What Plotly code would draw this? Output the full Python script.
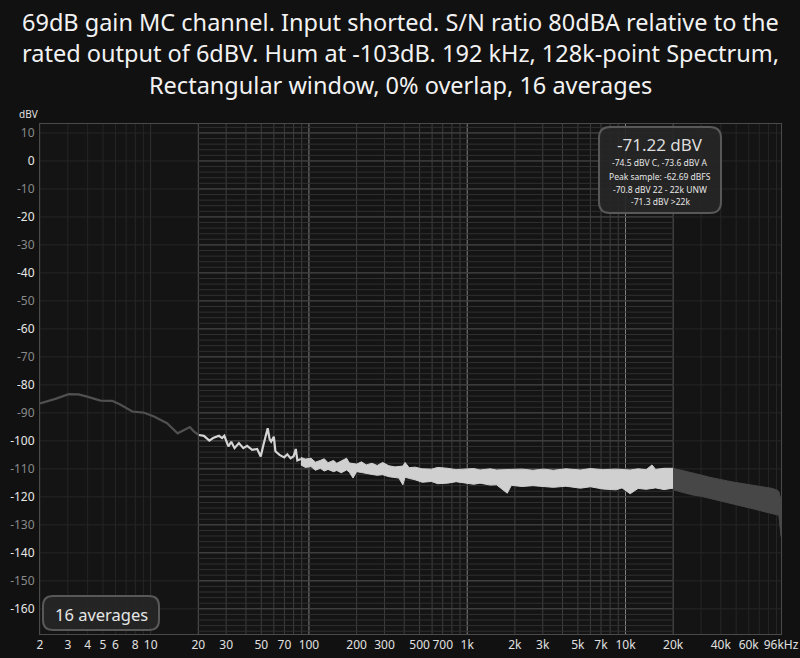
import math
import plotly.graph_objects as go

# ---------------- data ----------------
# 2-20 Hz (dark trace, outside the analysis band)
low_f = [2.0, 2.5, 3.04, 3.5, 3.97, 4.82, 5.72, 6.46, 7.66, 9.0, 10.5, 12.7, 14.8, 16.3, 17.7, 18.8, 20.2]
low_db = [-86.6, -85.0, -83.3, -83.4, -84.2, -85.6, -85.7, -87.1, -89.5, -89.9, -91.3, -93.7, -97.3, -96.1, -95.1, -96.7, -97.9]

# 20-90 Hz (white trace, single line)
mid_f = [20.2, 21.7, 23.5, 24.8, 27.0, 28.3, 29.2, 31.0, 32.3, 33.9, 36.1, 38.5, 40.7, 43.8, 47.1,
         49.6, 51.6, 53.5, 54.9, 56.5, 57.7, 60.0, 61.4, 65.2, 69.8, 73.0, 76.6, 80.0, 82.6, 84.5, 89.0]
mid_db = [-97.9, -98.2, -99.9, -99.0, -98.2, -99.0, -98.2, -102.0, -100.3, -102.6, -100.8, -102.6, -101.8, -103.2, -102.9,
          -105.6, -101.4, -97.5, -95.5, -99.5, -100.3, -98.5, -103.7, -105.0, -105.9, -104.8, -106.2, -105.5, -102.9, -107.0, -106.5]

# 89 Hz - 20 kHz (white noise band: upper / lower envelopes)
band_f = [89, 95, 103, 110, 118, 125, 132, 143, 150, 160, 173, 180, 190, 200, 215, 230, 250, 270, 292, 320,
          350, 370, 392, 405, 430, 468, 520, 594, 650, 753, 850, 953, 1100, 1205, 1400, 1530, 1790, 1900,
          2220, 2600, 3040, 3500, 4200, 5200, 6000, 7200, 8700, 9500, 10700, 12000, 13500, 14700, 15500, 17500, 20000]
band_hi = [-105.9, -106.5, -106.2, -107.6, -107.0, -106.4, -107.8, -107.0, -108.0, -107.3, -106.2, -107.9, -108.2, -108.3, -107.5,
           -108.6, -108.0, -108.8, -107.7, -108.9, -109.3, -109.2, -109.0, -107.7, -109.6, -109.4, -110.0, -110.1, -109.5, -109.8,
           -110.3, -110.1, -109.9, -110.4, -110.0, -110.4, -110.1, -110.2, -110.1, -110.5, -110.1, -110.5, -110.0, -110.4, -109.9,
           -110.3, -110.1, -110.2, -110.4, -110.0, -110.3, -108.6, -110.2, -109.8, -109.8]
band_lo = [-108.6, -109.5, -109.2, -110.5, -109.8, -110.8, -110.2, -111.0, -110.6, -111.4, -110.4, -111.2, -113.3, -111.0, -111.3,
           -111.5, -112.0, -112.3, -112.1, -112.8, -113.0, -113.3, -115.7, -113.0, -113.4, -113.9, -114.8, -114.5, -115.3, -115.1,
           -114.6, -115.1, -115.5, -115.1, -115.8, -115.7, -118.7, -115.9, -116.3, -116.0, -116.3, -116.6, -116.2, -116.9, -116.4,
           -117.2, -117.5, -116.8, -118.9, -117.0, -117.3, -116.9, -116.8, -117.4, -116.9]

# 20 kHz - 96 kHz (dark band)
hf_f = [20000, 22000, 24000, 26400, 30000, 34000, 38300, 44000, 50000, 56000, 62000, 70000, 78000, 83000, 90000, 93000, 96000]
hf_hi = [-109.8, -110.3, -110.9, -111.5, -112.2, -113.0, -113.7, -114.3, -114.9, -115.3, -115.7, -116.2, -116.6, -116.9, -117.5, -118.1, -121.1]
hf_lo = [-117.5, -118.2, -118.8, -119.3, -119.8, -120.5, -121.1, -122.0, -122.8, -123.5, -124.1, -124.9, -125.5, -125.9, -126.3, -126.6, -134.2]

x_tickvals = [2, 3, 4, 5, 6, 8, 10, 20, 30, 50, 70, 100, 200, 300, 500, 700, 1000, 2000, 3000, 5000, 7000, 10000, 20000, 40000, 60000, 96000]
x_ticktext = ["2", "3", "4", "5", "6", "8", "10", "20", "30", "50", "70", "100", "200", "300", "500", "700", "1k",
              "2k", "3k", "5k", "7k", "10k", "20k", "40k", "60k", "96kHz"]
y_tickvals = list(range(-160, 11, 10))

title_lines = ["69dB gain MC channel. Input shorted. S/N ratio 80dBA relative to the",
               "rated output of 6dBV. Hum at -103dB. 192 kHz, 128k-point Spectrum,",
               "Rectangular window, 0% overlap, 16 averages"]
readout_main = "-71.22 dBV"
readout_lines = ["-74.5 dBV C, -73.6 dBV A", "Peak sample: -62.69 dBFS", "-70.8 dBV 22 - 22k UNW", "-71.3 dBV >22k"]
avg_label = "16 averages"
band_lo_hz, band_hi_hz = 20, 20000

# ---------------- layout geometry ----------------
W, H = 800, 658
ML, MR, MT, MB = 40, 19, 124, 24
PW, PH = W - ML - MR, H - MT - MB
YR = [-169.0, 13.2]
XR = [math.log10(2), math.log10(96000)]


def px(x):
    return (x - ML) / PW


def py(y):
    return (H - MB - y) / PH


def rrect(x0, y0, x1, y1, r):
    def P(a, b):
        return f"{px(a):.5f},{py(b):.5f}"
    return (f"M {P(x0 + r, y0)} L {P(x1 - r, y0)} Q {P(x1, y0)} {P(x1, y0 + r)} "
            f"L {P(x1, y1 - r)} Q {P(x1, y1)} {P(x1 - r, y1)} L {P(x0 + r, y1)} "
            f"Q {P(x0, y1)} {P(x0, y1 - r)} L {P(x0, y0 + r)} Q {P(x0, y0)} {P(x0 + r, y0)} Z")


fig = go.Figure()

fig.add_trace(go.Scatter(x=low_f, y=low_db, mode="lines", line=dict(color="#505050", width=2.2),
                         hoverinfo="skip", showlegend=False))
fig.add_trace(go.Scatter(x=mid_f, y=mid_db, mode="lines", line=dict(color="#d4d4d4", width=2.2),
                         hoverinfo="skip", showlegend=False))
fig.add_trace(go.Scatter(x=band_f, y=band_lo, mode="lines", line=dict(color="#d0d0d0", width=1),
                         hoverinfo="skip", showlegend=False))
fig.add_trace(go.Scatter(x=band_f, y=band_hi, mode="lines", line=dict(color="#d0d0d0", width=1),
                         fill="tonexty", fillcolor="#d0d0d0", hoverinfo="skip", showlegend=False))
fig.add_trace(go.Scatter(x=hf_f, y=hf_lo, mode="lines", line=dict(color="#474747", width=1),
                         hoverinfo="skip", showlegend=False))
fig.add_trace(go.Scatter(x=hf_f, y=hf_hi, mode="lines", line=dict(color="#474747", width=1),
                         fill="tonexty", fillcolor="#474747", hoverinfo="skip", showlegend=False))

shapes = []
for dec in [1, 10, 100, 1000, 10000]:
    for m in range(1, 10):
        f = m * dec
        if f < 2 or f > 96000:
            continue
        inside = band_lo_hz <= f <= band_hi_hz
        if inside:
            col = "#808080" if (m == 1 and f >= 100) else ("#555555" if f in (band_lo_hz, band_hi_hz) else "#3e3e3e")
        else:
            col = "#303030" if m == 1 else "#262626"
        shapes.append(dict(type="line", xref="x", yref="paper", x0=f, x1=f, y0=0, y1=1,
                           line=dict(color=col, width=1), layer="below"))
for v in range(-168, 13, 2):
    major = v % 10 == 0
    if major:
        shapes.append(dict(type="line", xref="paper", yref="y", x0=0, x1=1, y0=v, y1=v,
                           line=dict(color="#262626", width=1), layer="below"))
    shapes.append(dict(type="line", xref="x", yref="y", x0=band_lo_hz, x1=band_hi_hz, y0=v, y1=v,
                       line=dict(color="#4c4c4c" if major else "#303030", width=1), layer="below"))

shapes.append(dict(type="path", xref="paper", yref="paper", path=rrect(599, 127, 721, 213, 11),
                   fillcolor="rgba(38,38,38,0.92)", line=dict(color="#585858", width=2), layer="above"))
shapes.append(dict(type="path", xref="paper", yref="paper", path=rrect(43, 596, 159, 630, 10),
                   fillcolor="rgba(38,38,38,0.92)", line=dict(color="#585858", width=2), layer="above"))

annotations = []
FONT = "Noto Sans"
for t, yy in zip(title_lines, [22, 53, 85]):
    annotations.append(dict(text=t, xref="paper", yref="paper", x=px(400), y=py(yy), xanchor="center",
                            yanchor="middle", showarrow=False, font=dict(family=FONT, size=23.5, color="#f2f2f2")))
annotations.append(dict(text="dBV", xref="paper", yref="paper", x=px(28), y=py(114), xanchor="center",
                        yanchor="middle", showarrow=False, font=dict(family=FONT, size=10, color="#e0e0e0")))
annotations.append(dict(text=readout_main, xref="paper", yref="paper", x=px(660), y=py(145), xanchor="center",
                        yanchor="middle", showarrow=False, font=dict(family=FONT, size=17, color="#dcdcdc")))
for t, yy in zip(readout_lines, [163, 176, 189, 201.5]):
    annotations.append(dict(text=t, xref="paper", yref="paper", x=px(660), y=py(yy), xanchor="center",
                            yanchor="middle", showarrow=False, font=dict(family=FONT, size=8.5, color="#e6e6e6")))
annotations.append(dict(text=avg_label, xref="paper", yref="paper", x=px(101), y=py(614), xanchor="center",
                        yanchor="middle", showarrow=False, font=dict(family=FONT, size=16.5, color="#e6e6e6")))

y_ticktext = []
for v in y_tickvals:
    col = "#e8e8e8" if v % 20 == 0 else "#8a8a8a"
    y_ticktext.append(f"<span style='color:{col}'>{v}</span>")

fig.update_layout(
    width=W, height=H,
    margin=dict(l=ML, r=MR, t=MT, b=MB, pad=0, autoexpand=False),
    paper_bgcolor="#111111", plot_bgcolor="#141414",
    shapes=shapes, annotations=annotations, showlegend=False,
    xaxis=dict(type="log", range=XR, tickmode="array", tickvals=x_tickvals, ticktext=x_ticktext,
               showgrid=False, zeroline=False, showline=True, linecolor="#4a4a4a", linewidth=1, mirror=True,
               ticks="", automargin=False, tickfont=dict(family=FONT, size=12, color="#e0e0e0")),
    yaxis=dict(range=YR, tickmode="array", tickvals=y_tickvals, ticktext=y_ticktext,
               showgrid=False, zeroline=False, showline=True, linecolor="#4a4a4a", linewidth=1, mirror=True,
               ticks="", automargin=False, ticklabelstandoff=2, tickfont=dict(family=FONT, size=12, color="#e0e0e0")),
)

fig.write_html("out.html", config={"displayModeBar": False},
               post_script="document.body.style.margin='0';document.body.style.background='#111111';")
